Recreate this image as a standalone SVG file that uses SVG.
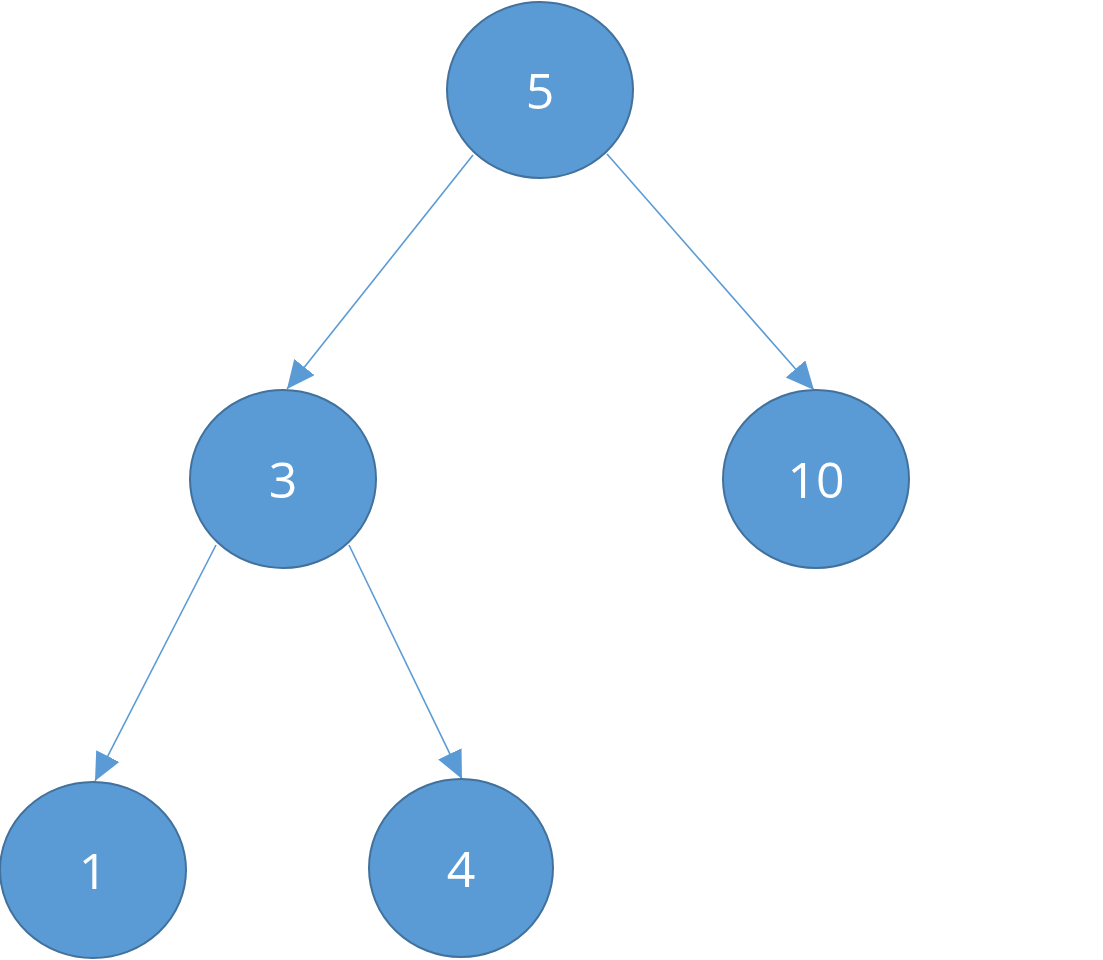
<svg xmlns="http://www.w3.org/2000/svg" width="1103" height="960" viewBox="0 0 1103 960">
<defs>
<style>
.node ellipse{fill:#5B9BD5;stroke:#41719C;stroke-width:2}
.node text{fill:#ffffff;font-family:"Open Sans","Liberation Sans",sans-serif;font-size:50px;text-anchor:middle;dominant-baseline:central}
.edge{stroke:#5B9BD5;stroke-width:1.6;fill:none;marker-end:url(#arr)}
</style>
<marker id="arr" markerUnits="userSpaceOnUse" markerWidth="32" markerHeight="28" refX="28" refY="13" orient="auto">
<path d="M0,0 L28,13 L0,26 Z" fill="#5B9BD5"/>
</marker>
</defs>
<rect width="1103" height="960" fill="#ffffff"/>
<g id="connectors">
<line class="edge" x1="473" y1="155" x2="287" y2="389"/>
<line class="edge" x1="607" y1="154" x2="814" y2="390"/>
<line class="edge" x1="216" y1="545" x2="95" y2="781"/>
<line class="edge" x1="349" y1="545" x2="462" y2="779"/>
</g>
<g id="n5" class="node"><ellipse cx="540" cy="90" rx="93" ry="88"/><text x="540" y="90">5</text></g>
<g id="n3" class="node"><ellipse cx="283" cy="479" rx="93" ry="89"/><text x="283" y="479">3</text></g>
<g id="n10" class="node"><ellipse cx="816" cy="479" rx="93" ry="89"/><text x="816" y="479">10</text></g>
<g id="n1" class="node"><ellipse cx="93" cy="870" rx="93" ry="88"/><text x="93" y="870">1</text></g>
<g id="n4" class="node"><ellipse cx="461" cy="868" rx="92" ry="89"/><text x="461" y="868">4</text></g>
</svg>
